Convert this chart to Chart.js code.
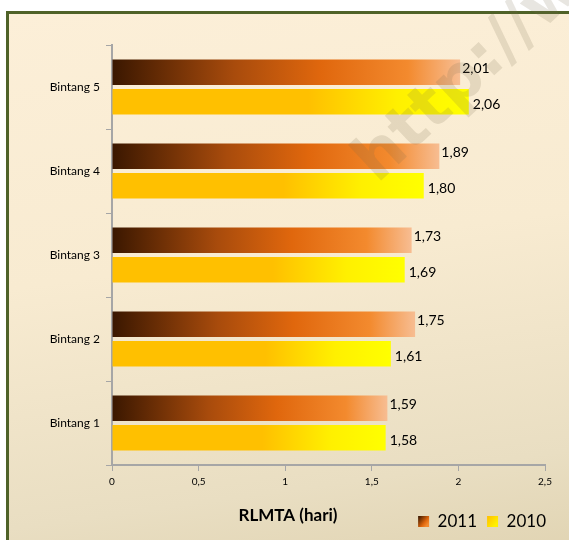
<!DOCTYPE html>
<html lang="id">
<head>
<meta charset="UTF-8" />
<title>RLMTA (hari)</title>
<script src="https://cdn.jsdelivr.net/npm/chart.js"></script>
<style>
  body { margin: 0; width: 569px; height: 540px; overflow: hidden; background: #fff; position: relative; }
  .frame {
    position: absolute; left: 6px; top: 11px; width: 620px; height: 600px;
    border: 3px solid #4f6228;
    background: linear-gradient(172deg, #fcefd8 0%, #f8ebd1 40%, #e9dec2 75%, #dbcda8 100%);
  }
  #chart { position: absolute; left: 0; top: 0; }
</style>
</head>
<body>
<div class="frame"></div>
<canvas id="chart" width="569" height="540"></canvas>
<script>
  const categories = ['Bintang 1', 'Bintang 2', 'Bintang 3', 'Bintang 4', 'Bintang 5'];
  const values2011 = [1.59, 1.75, 1.73, 1.89, 2.01];
  const values2010 = [1.58, 1.61, 1.69, 1.80, 2.06];
  const xMin = 0, xMax = 2.5, xStep = 0.5;

  const FONT = 'Lato, "Open Sans", sans-serif';
  const comma = v => String(v).replace('.', ',');
  const SPILL = 60; // legend + title are moved onto the axis row, so let them spill below

  const stops2011 = [[0, '#3a1700'], [0.35, '#a84b0c'], [0.6, '#e0670d'], [0.85, '#f38a2e'], [1, '#f7bd92']];
  const stops2010 = [[0, '#ffc000'], [0.55, '#ffc000'], [0.8, '#fff000'], [1, '#ffff00']];

  // gradient along each bar, from the axis to the bar end
  function barFill(stops, solid) {
    return c => {
      if (c.type !== 'data') return solid;
      const chart = c.chart;
      const x = chart.scales.x;
      if (!x || !chart.chartArea) return solid;
      const x0 = x.getPixelForValue(0);
      const x1 = x.getPixelForValue(c.raw);
      const g = chart.ctx.createLinearGradient(x0, 0, x1, 0);
      stops.forEach(s => g.addColorStop(s[0], s[1]));
      return g;
    };
  }

  const valueLabels = {
    id: 'valueLabels',
    afterDatasetsDraw(chart) {
      const ctx = chart.ctx;
      const shift = [[2, -4], [4, 3]];
      ctx.save();
      ctx.font = '14px ' + FONT;
      ctx.fillStyle = '#000';
      ctx.textAlign = 'left';
      ctx.textBaseline = 'middle';
      chart.data.datasets.forEach((ds, i) => {
        chart.getDatasetMeta(i).data.forEach((bar, j) => {
          ctx.fillText(ds.data[j].toFixed(2).replace('.', ','), bar.x + shift[i][0], bar.y + shift[i][1]);
        });
      });
      ctx.restore();
    }
  };

  const watermark = {
    id: 'watermark',
    afterDraw(chart) {
      const ctx = chart.ctx;
      ctx.save();
      ctx.translate(366, 172);
      ctx.rotate(-0.75);
      ctx.font = 'bold 64px "DejaVu Sans", sans-serif';
      ctx.fillStyle = 'rgba(120, 105, 80, 0.17)';
      ctx.fillText('http://www', 0, 0);
      ctx.restore();
    }
  };

  // place legend and title on the bottom row, as in the original
  const bottomRow = {
    id: 'bottomRow',
    afterLayout(chart) {
      const lg = chart.legend;
      const h = lg.height;
      lg.top = 503;
      lg.bottom = lg.top + h;
      lg.right = 556;
      const t = chart.titleBlock;
      const th = t.height;
      t.top = 505;
      t.bottom = t.top + th;
      t.left = 188;
      t.right = 388;
    },
    beforeDraw(chart) {
      const lg = chart.legend;
      const all = [stops2011, stops2010];
      (lg.legendHitBoxes || []).forEach((hb, i) => {
        const g = chart.ctx.createLinearGradient(hb.left, hb.top + 4, hb.left + 11, hb.top + hb.height - 4);
        all[i].forEach((s, k) => { if (k === 0 || k === 2 || k === all[i].length - 2) g.addColorStop(s[0], s[1]); });
        if (lg.legendItems[i]) lg.legendItems[i].fillStyle = g;
      });
    }
  };

  new Chart(document.getElementById('chart'), {
    type: 'bar',
    data: {
      labels: categories,
      datasets: [
        { label: '2011', data: values2011, backgroundColor: barFill(stops2011, '#cf600e') },
        { label: '2010', data: values2010, backgroundColor: barFill(stops2010, '#ffd000') }
      ]
    },
    options: {
      indexAxis: 'y',
      responsive: false,
      animation: false,
      categoryPercentage: 0.7,
      barPercentage: 0.87,
      layout: { padding: { top: 45, right: 24, left: 0, bottom: -SPILL } },
      scales: {
        x: {
          min: xMin,
          max: xMax,
          afterFit: s => { s.height = 75 + SPILL - s.chart.legend.height - s.chart.titleBlock.height; },
          border: { color: '#a6a6a6', width: 2 },
          grid: { drawOnChartArea: false, tickLength: 6, color: '#a6a6a6', lineWidth: 1 },
          ticks: { stepSize: xStep, padding: 5, color: '#000', font: { family: FONT, size: 10 }, callback: v => comma(v) }
        },
        y: {
          reverse: true,
          afterFit: s => { s.width = 112; },
          border: { color: '#a6a6a6', width: 2 },
          grid: { drawOnChartArea: false, offset: true, tickLength: 6, color: '#a6a6a6' },
          ticks: { padding: 6, color: '#000', font: { family: FONT, size: 12 } }
        }
      },
      plugins: {
        title: {
          display: true,
          position: 'bottom',
          text: 'RLMTA (hari)',
          color: '#000',
          padding: 0,
          font: { family: FONT, size: 17, weight: 'bold' }
        },
        legend: {
          position: 'bottom',
          align: 'end',
          labels: { color: '#000', boxWidth: 11, boxHeight: 11, padding: 10, font: { family: FONT, size: 17 } }
        },
        tooltip: { enabled: false }
      }
    },
    plugins: [valueLabels, watermark, bottomRow]
  });
</script>
</body>
</html>
